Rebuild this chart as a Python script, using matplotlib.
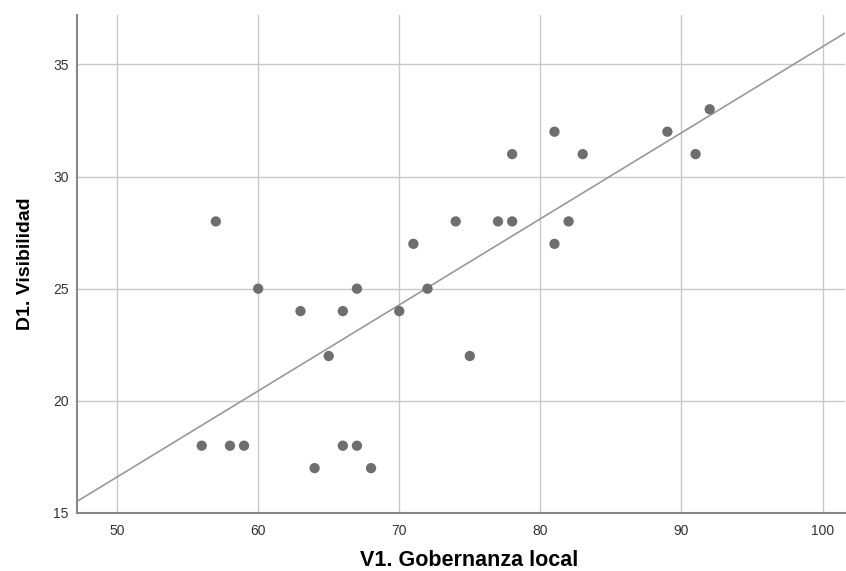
import matplotlib
matplotlib.use("Agg")
import matplotlib.pyplot as plt
import numpy as np

plt.rcParams['font.family'] = ['Liberation Sans', 'DejaVu Sans']

gobernanza = [56, 57, 58, 59, 60, 63, 64, 65, 66, 66, 67, 67, 68, 70, 71, 72, 74, 75,
              77, 78, 78, 81, 81, 82, 83, 89, 91, 92]
visibilidad = [18, 28, 18, 18, 25, 24, 17, 22, 24, 18, 25, 18, 17, 24, 27, 25, 28, 22,
               28, 31, 28, 32, 27, 28, 31, 32, 31, 33]
x_ticks = [50, 60, 70, 80, 90, 100]
y_ticks = [15, 20, 25, 30, 35]
x_label = "V1. Gobernanza local"
y_label = "D1. Visibilidad"

fig = plt.figure(figsize=(8.46, 5.71), dpi=100)
ax = fig.add_axes([0.091, 0.1016, 0.908, 0.872])

xmin, xmax = 47.16, 101.6
ymin, ymax = 15, 37.2
ax.set_xlim(xmin, xmax)
ax.set_ylim(ymin, ymax)

ax.set_xticks(x_ticks)
ax.set_yticks(y_ticks)
ax.grid(True, color='#c8c8c8', linewidth=1.0)
ax.set_axisbelow(True)

x = np.array(gobernanza, dtype=float)
y = np.array(visibilidad, dtype=float)
slope, intercept = np.polyfit(x, y, 1)
xs = np.array([xmin, xmax])
ax.plot(xs, slope * xs + intercept, color='#999999', linewidth=1.2, zorder=2)

ax.scatter(x, y, s=55, color='#6e6e6e', edgecolors='none', zorder=3)

for side in ['top', 'right']:
    ax.spines[side].set_visible(False)
for side in ['left', 'bottom']:
    ax.spines[side].set_color('#888888')
    ax.spines[side].set_linewidth(1.5)

ax.tick_params(axis='both', length=0, labelsize=10, colors='#333333', pad=6)
ax.tick_params(axis='x', pad=8)

ax.set_xlabel(x_label, fontsize=15.5, fontweight='bold')
ax.xaxis.set_label_coords(0.51, -0.075)
ax.set_ylabel(y_label, fontsize=14, fontweight='bold', labelpad=14)

fig.savefig("out.png", dpi=100)
